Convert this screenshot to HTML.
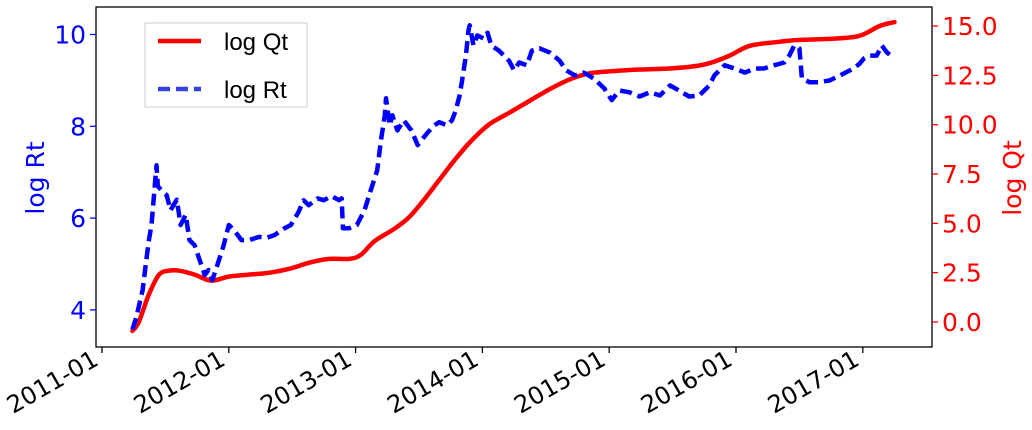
<!DOCTYPE html>
<html><head><meta charset="utf-8"><style>
html,body{margin:0;padding:0;background:#fff;width:1032px;height:430px;overflow:hidden}
svg text{font-family:"DejaVu Sans","Liberation Sans",sans-serif}
</style></head><body>
<svg id="chart" width="1032" height="430" xmlns="http://www.w3.org/2000/svg">
<g id="series"></g>
<rect x="96" y="7" width="836" height="340" fill="none" stroke="#000" stroke-width="1.3"/>
<g id="axes"></g>
<g>
<rect x="145" y="23" width="162" height="84" fill="#fff" stroke="#ccc" stroke-width="1"/>
<line x1="158" y1="41" x2="201" y2="41" stroke="#ff0000" stroke-width="4.5"/>
<text x="224" y="50" font-size="24" fill="#000" style="font-family:'Liberation Sans',sans-serif">log Qt</text>
<line x1="158" y1="89" x2="201" y2="89" stroke="#3344dd" stroke-width="4.5" stroke-dasharray="12,6"/>
<text x="224" y="98" font-size="24" fill="#000" style="font-family:'Liberation Sans',sans-serif">log Rt</text>
</g>
<text transform="translate(44,178) rotate(-90)" text-anchor="middle" font-size="25" fill="#0000ff">log Rt</text>
<text transform="translate(1021,178) rotate(-90)" text-anchor="middle" font-size="25" fill="#ff0000">log Qt</text>
</svg>
<script>
const qT=[0.24,0.29,0.37,0.45,0.53,0.61,0.73,0.86,1.00,1.16,1.32,1.48,1.63,1.79,1.95,2.04,2.15,2.30,2.42,2.54,2.66,2.78,2.90,3.05,3.21,3.37,3.53,3.69,3.84,4.00,4.24,4.48,4.71,4.83,4.95,5.11,5.34,5.50,5.74,5.97,6.13,6.25];
const qV=[-0.45,0,1.4,2.4,2.6,2.6,2.4,2.1,2.3,2.4,2.5,2.7,3.0,3.2,3.2,3.4,4.1,4.7,5.3,6.2,7.2,8.2,9.1,10.0,10.6,11.2,11.8,12.3,12.6,12.7,12.8,12.85,13.0,13.2,13.5,14.0,14.2,14.3,14.35,14.5,15.0,15.2];
const rT=[0.24,0.27,0.32,0.35,0.37,0.39,0.41,0.43,0.44,0.47,0.51,0.54,0.59,0.62,0.66,0.69,0.73,0.77,0.81,0.84,0.87,0.91,0.96,1.00,1.04,1.10,1.16,1.24,1.30,1.36,1.44,1.49,1.55,1.59,1.63,1.70,1.75,1.81,1.87,1.89,1.90,1.95,2.01,2.07,2.12,2.17,2.20,2.23,2.24,2.27,2.29,2.33,2.38,2.44,2.49,2.52,2.57,2.62,2.66,2.72,2.76,2.79,2.82,2.84,2.87,2.89,2.90,2.93,2.96,3.01,3.04,3.07,3.13,3.17,3.21,3.25,3.29,3.35,3.39,3.45,3.53,3.61,3.66,3.73,3.80,3.88,3.96,4.02,4.08,4.16,4.24,4.32,4.40,4.48,4.55,4.63,4.71,4.79,4.83,4.91,4.99,5.07,5.15,5.22,5.30,5.38,5.42,5.46,5.50,5.52,5.58,5.66,5.74,5.82,5.90,5.97,6.01,6.05,6.11,6.15,6.19,6.22,6.24];
const rV=[3.57,3.83,4.43,5.1,5.52,5.85,6.5,7.15,6.7,6.6,6.5,6.17,6.4,5.85,6.07,5.52,5.41,5.09,4.76,4.87,4.65,4.98,5.41,5.85,5.74,5.52,5.52,5.59,5.57,5.63,5.78,5.85,6.13,6.39,6.28,6.43,6.39,6.48,6.39,6.43,5.78,5.78,5.85,6.17,6.61,7.04,7.7,8.24,8.61,8.02,8.24,7.91,8.13,7.91,7.59,7.7,7.87,8.02,8.09,8.02,8.13,8.35,8.67,9.0,9.54,10.09,10.2,9.76,9.98,9.91,10.04,9.76,9.65,9.54,9.43,9.22,9.39,9.33,9.65,9.7,9.61,9.43,9.22,9.11,9.17,9.04,8.83,8.57,8.78,8.74,8.65,8.74,8.67,8.89,8.78,8.65,8.67,8.89,9.11,9.33,9.26,9.17,9.26,9.26,9.33,9.39,9.54,9.76,9.7,9.04,8.96,8.96,9.0,9.11,9.22,9.35,9.48,9.54,9.54,9.76,9.61,9.54,9.6];
const xLabels=["2011-01","2012-01","2013-01","2014-01","2015-01","2016-01","2017-01"];
const leftTicks=[4,6,8,10];
const rightTicks=[0,2.5,5,7.5,10,12.5,15];
const NS="http://www.w3.org/2000/svg";
const X=t=>102+t*126.8;
const YL=v=>34.5-(v-10)*45.9;
const YR=v=>322-v*19.73;
function mk(tag,attrs,parent){const e=document.createElementNS(NS,tag);for(const k in attrs)e.setAttribute(k,attrs[k]);parent.appendChild(e);return e;}
function smooth(pts){let d='M'+pts[0][0].toFixed(1)+','+pts[0][1].toFixed(1);
 for(let i=0;i<pts.length-1;i++){const p0=pts[Math.max(0,i-1)],p1=pts[i],p2=pts[i+1],p3=pts[Math.min(pts.length-1,i+2)];
  const c1=[p1[0]+(p2[0]-p0[0])/6,p1[1]+(p2[1]-p0[1])/6],c2=[p2[0]-(p3[0]-p1[0])/6,p2[1]-(p3[1]-p1[1])/6];
  d+='C'+c1.map(v=>v.toFixed(1)).join(',')+' '+c2.map(v=>v.toFixed(1)).join(',')+' '+p2[0].toFixed(1)+','+p2[1].toFixed(1);}
 return d;}
const axes=document.getElementById('axes'),ser=document.getElementById('series');
xLabels.forEach((lab,i)=>{const x=X(i);
 const tk=mk('line',{x1:x,x2:x,y1:347,y2:353,stroke:'#000','stroke-width':1.3},axes);
 
 
 const t=mk('text',{transform:`translate(${x-2},${364}) rotate(-30)`,'text-anchor':'end','font-size':24,fill:'#000'},axes);
 t.textContent=lab;
 
 
});
leftTicks.forEach(v=>{const y=YL(v);
 const tk=mk('line',{x1:90,x2:96,y1:y,y2:y,stroke:'#0000ff','stroke-width':1.3},axes);
 
 
 const t=mk('text',{x:86,y:y+9,'text-anchor':'end','font-size':25,fill:'#0000ff'},axes);
 t.textContent=String(v);
 
 
});
rightTicks.forEach(v=>{const y=YR(v);
 const tk=mk('line',{x1:932,x2:938,y1:y,y2:y,stroke:'#ff0000','stroke-width':1.3},axes);
 
 
 const t=mk('text',{x:942,y:y+9,'font-size':25,fill:'#ff0000'},axes);
 t.textContent=v.toFixed(1);
 
 
});
const pq=mk('path',{d:smooth(qT.map((t,i)=>[X(t),YR(qV[i])])),fill:'none',stroke:'#ff0000','stroke-width':4.5,'stroke-linejoin':'round','stroke-linecap':'round'},ser);


const pr=mk('path',{d:rT.map((t,i)=>(i?'L':'M')+X(t).toFixed(1)+','+YL(rV[i]).toFixed(1)).join(''),fill:'none',stroke:'#0000ff','stroke-width':4.5,'stroke-dasharray':'12,6','stroke-linejoin':'round'},ser);


</script>
</body></html>
